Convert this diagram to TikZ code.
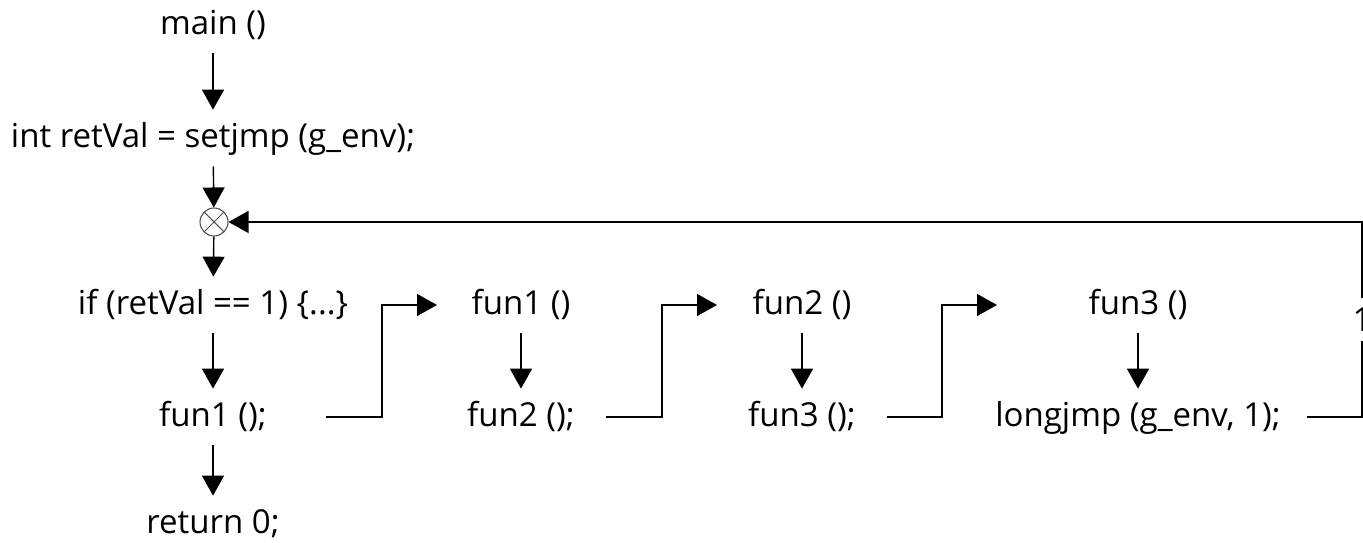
\documentclass[tikz,border=0pt]{standalone}
\usepackage{fontspec}
\setmainfont{Open Sans}
\usetikzlibrary{arrows.meta}

\begin{document}
\begin{tikzpicture}[x=0.02cm, y=-0.02cm,
  code/.style={inner xsep=0pt, inner ysep=0pt, text height=0.76cm, text depth=0.36cm,
    font=\fontsize{18.8}{21}\selectfont},
  xnode/.style={circle, draw=black!70, line width=0.6pt, minimum size=0.56cm, inner sep=0pt,
    path picture={\draw[black!70, line width=0.6pt]
      (path picture bounding box.north west) -- (path picture bounding box.south east)
      (path picture bounding box.north east) -- (path picture bounding box.south west);}},
  lbl/.style={fill=white, inner xsep=1pt, inner ysep=0.2cm, font=\fontsize{18.8}{21}\selectfont},
  arr/.style={-{Triangle[width=0.44cm, length=0.40cm]}, line width=0.8pt, black}
]
\useasboundingbox (0,0) rectangle (1363,543);

% main column
\node[code]  (main)   at (213, 25)  {main ()};
\node[code]  (setjmp) at (213,138)  {int retVal = setjmp (g\_env);};
\node[xnode] (cross)  at (214,222)  {};
\node[code]  (ifret)  at (213,305)  {if (retVal == 1) \{...\}};
\node[code]  (call1)  at (213,417)  {fun1 ();};
\node[code, text depth=0.08cm] (ret) at (213,517) {return 0;};

% called functions
\node[code] (def1)  at (521,305)  {fun1 ()};
\node[code] (call2) at (521,417)  {fun2 ();};
\node[code] (def2)  at (802,305)  {fun2 ()};
\node[code] (call3) at (802,417)  {fun3 ();};
\node[code] (def3)  at (1138,305) {fun3 ()};
\node[code] (jump)  at (1138,417) {longjmp (g\_env, 1);};

\coordinate (out1) at (326,417);  \coordinate (in1) at (437,305);
\coordinate (out2) at (606,417);  \coordinate (in2) at (717,305);
\coordinate (out3) at (887,417);  \coordinate (in3) at (997,305);
\coordinate (out4) at (1307,417);

\draw[arr] (main)   -- (setjmp);
\draw[arr] (setjmp) -- (cross);
\draw[arr] (cross)  -- (ifret);
\draw[arr] (ifret)  -- (call1);
\draw[arr] (call1)  -- (ret);
\draw[arr] (def1)   -- (call2);
\draw[arr] (def2)   -- (call3);
\draw[arr] (def3)   -- (jump);

\draw[arr] (out1) -- ++(56,0) |- (in1);
\draw[arr] (out2) -- ++(56,0) |- (in2);
\draw[arr] (out3) -- ++(55,0) |- (in3);
\draw[arr] (out4) -- ++(55,0) |- node[lbl, pos=0.25] {1} (cross);
\end{tikzpicture}
\end{document}
